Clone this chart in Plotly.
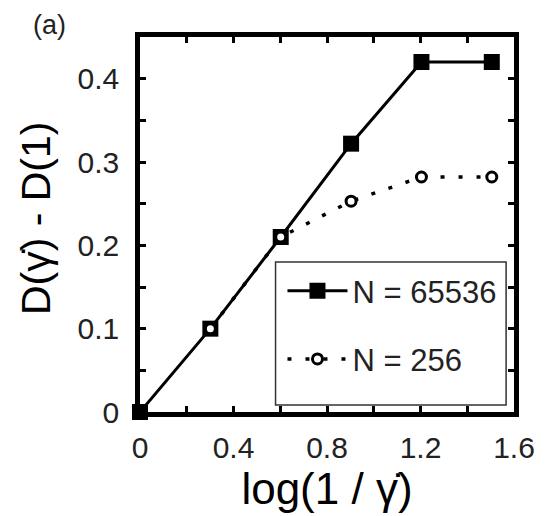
import plotly.graph_objects as go

# Data
x_vals = [0.0, 0.301, 0.602, 0.903, 1.204, 1.505]
d_65536 = [0.0, 0.10, 0.21, 0.322, 0.42, 0.42]
x_256 = [0.301, 0.602, 0.903, 1.204, 1.505]
d_256 = [0.10, 0.21, 0.253, 0.282, 0.282]
series_names = ["N = 65536", "N = 256"]
x_tick_vals = [0, 0.4, 0.8, 1.2, 1.6]
x_tick_text = ["0", "0.4", "0.8", "1.2", "1.6"]
y_tick_vals = [0, 0.1, 0.2, 0.3, 0.4]
y_tick_text = ["0", "0.1", "0.2", "0.3", "0.4"]

FONT = "Liberation Sans, Arial, sans-serif"
TXT = "#222222"

# plot-area pixel geometry helpers (for paper-coordinate annotations)
L, R, T, B = 140, 518, 37, 412
def px(xp):
    return (xp - L) / (R - L)
def py(yp):
    return (B - yp) / (B - T)

fig = go.Figure()
fig.add_trace(go.Scatter(
    x=x_vals, y=d_65536, name=series_names[0], mode="lines+markers",
    line=dict(color="black", width=3),
    marker=dict(symbol="square", size=16, color="black"),
    cliponaxis=False, legendgroup="a",
))
fig.add_trace(go.Scatter(
    x=x_256, y=d_256, name=series_names[1], mode="lines+markers",
    line=dict(color="black", width=3.5, dash="4px,14px"),
    marker=dict(symbol="circle", size=10, color="white",
                line=dict(color="black", width=3)),
    cliponaxis=False, legendgroup="b",
))

axis_common = dict(
    showgrid=False, zeroline=False, showline=True, linecolor="black",
    linewidth=4.5, mirror="ticks", ticks="inside", ticklen=6, tickwidth=3,
    tickcolor="black", tickfont=dict(family=FONT, size=30, color=TXT),
)

fig.update_layout(
    width=547, height=516,
    margin=dict(l=L, r=547 - R, t=T, b=516 - B),
    paper_bgcolor="white", plot_bgcolor="white",
    xaxis=dict(range=[0, 1.6], tickvals=x_tick_vals, ticktext=x_tick_text,
               minor=dict(dtick=0.2, ticks="inside", ticklen=6, tickwidth=3, tickcolor="black"),
               title=dict(text="log(1 / γ̇)", font=dict(family=FONT, size=44, color="black"), standoff=6),
               ticklabelstandoff=5,
               **axis_common),
    yaxis=dict(range=[0, 0.45], tickvals=y_tick_vals, ticktext=y_tick_text,
               minor=dict(dtick=0.05, ticks="inside", ticklen=6, tickwidth=3, tickcolor="black"),
               ticklabelstandoff=10,
               **axis_common),
    legend=dict(x=px(284), y=py(264), xanchor="left", yanchor="top",
                bgcolor="rgba(0,0,0,0)", borderwidth=0,
                font=dict(family=FONT, size=31, color=TXT),
                itemwidth=60, tracegroupgap=25),
    showlegend=True,
    shapes=[dict(type="rect", xref="paper", yref="paper",
                 x0=px(277), x1=px(510), y0=py(405), y1=py(262),
                 line=dict(color="#333333", width=1.5), fillcolor="white",
                 layer="below")],
    annotations=[
        dict(text="(a)", x=px(49), y=py(25), xref="paper", yref="paper",
             xanchor="center", yanchor="middle", showarrow=False,
             font=dict(family=FONT, size=27, color=TXT)),
        dict(text="D(γ̇) - D(1)", x=px(35), y=py(218), xref="paper", yref="paper",
             xanchor="center", yanchor="middle", textangle=-90, showarrow=False,
             font=dict(family=FONT, size=41, color="black")),
    ],
)

fig.write_html("out.html")
